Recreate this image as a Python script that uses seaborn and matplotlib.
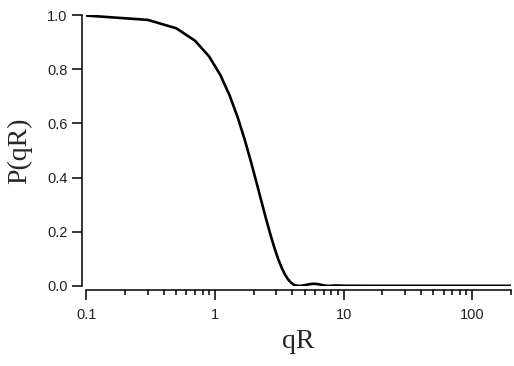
import pandas as pd
import seaborn as sns
import matplotlib.pyplot as plt

# values
qr = [0.1, 0.3, 0.5, 0.7, 0.9, 1.1, 1.3, 1.5, 1.7, 1.9, 2.1, 2.3, 2.5, 2.7, 2.9,
      3.1, 3.3, 3.5, 3.7, 3.9, 4.1, 4.3, 4.5, 4.7, 4.9, 5.1, 5.3, 5.5, 5.7, 5.9,
      6.1, 6.3, 6.5, 6.7, 6.9, 7.1, 7.3, 7.5, 7.7, 8.0, 8.5, 9.0, 9.5, 10, 11,
      12, 15, 20, 50, 100, 200]
p_qr = [0.998, 0.982, 0.951, 0.905, 0.847, 0.779, 0.703, 0.623, 0.541, 0.460,
        0.383, 0.311, 0.246, 0.189, 0.140, 0.099, 0.067, 0.042, 0.024, 0.012,
        0.004, 0.001, 0.000, 0.0005, 0.0017, 0.0033, 0.0050, 0.0064, 0.0073,
        0.0075, 0.0071, 0.0062, 0.0050, 0.0036, 0.0023, 0.0012, 0.0004, 0.0001,
        0.0, 0.0003, 0.0011, 0.0013, 0.0009, 0.0004, 0.0002, 0.0003, 0.0001,
        0.00003, 0.0, 0.0, 0.0]

df = pd.DataFrame({"qR": qr, "P": p_qr})

sns.set_style("ticks")
plt.rcParams["font.family"] = ["Liberation Sans", "DejaVu Sans"]

fig = plt.figure(figsize=(5.14, 3.66), dpi=100)
ax = fig.add_axes([0.168, 0.219, 0.826, 0.740])

sns.lineplot(data=df, x="qR", y="P", color="black", linewidth=1.9, ax=ax)
ax.set_xscale("log")
ax.set_xlim(0.1, 200)
ax.set_ylim(0, 1.0)
ax.set_yticks([0.0, 0.2, 0.4, 0.6, 0.8, 1.0])
ax.set_yticklabels(["0.0", "0.2", "0.4", "0.6", "0.8", "1.0"])
ax.set_xticks([0.1, 1, 10, 100])
ax.set_xticklabels(["0.1", "1", "10", "100"])

for side in ["top", "right"]:
    ax.spines[side].set_visible(False)
for side in ["left", "bottom"]:
    ax.spines[side].set_position(("outward", 3))
    ax.spines[side].set_linewidth(1.1)
    ax.spines[side].set_color("black")

ax.tick_params(axis="both", which="major", length=7, width=1.1, labelsize=10.5,
               color="black", labelcolor="#222222", direction="out")
ax.tick_params(axis="x", which="major", pad=6)
ax.tick_params(axis="y", which="major", pad=3.5)
ax.tick_params(axis="x", which="minor", length=3.8, width=1.1, color="black")

ax.set_xlabel("qR", family=["Liberation Serif"], fontsize=20, labelpad=5)
ax.set_ylabel("P(qR)", family=["Liberation Serif"], fontsize=20, labelpad=11)

fig.savefig("out.png", dpi=100)
